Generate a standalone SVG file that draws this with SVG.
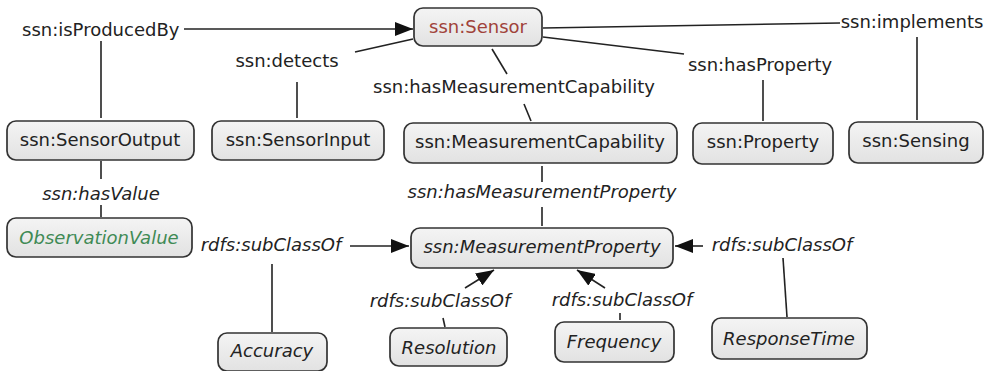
<svg xmlns="http://www.w3.org/2000/svg" width="986" height="371" viewBox="0 0 986 371">
<style>
.box{fill:url(#g);stroke:#333;stroke-width:1.7}
.t{font-family:"DejaVu Sans",Verdana,sans-serif;font-size:18px;fill:#222;text-anchor:middle}
.i{font-style:italic}
.l{stroke:#222;stroke-width:1.6;fill:none}
</style>
<defs>
<linearGradient id="g" x1="0" y1="0" x2="0" y2="1"><stop offset="0" stop-color="#f4f4f4"/><stop offset="1" stop-color="#e2e2e2"/></linearGradient>
<marker id="a" viewBox="0 0 18 14" refX="18" refY="7" markerWidth="18" markerHeight="14" markerUnits="userSpaceOnUse" orient="auto"><path d="M0,0 L18,7 L0,14 z" fill="#111"/></marker>
</defs>
<rect width="986" height="371" fill="#fff"/>
<g id="connectors">
<line class="l" x1="184" y1="29" x2="413" y2="29" marker-end="url(#a)"/>
<line class="l" x1="101" y1="41" x2="101" y2="118"/>
<line class="l" x1="101" y1="161" x2="101" y2="179"/>
<line class="l" x1="101" y1="205" x2="101" y2="217"/>
<line class="l" x1="355" y1="52" x2="413" y2="39"/>
<line class="l" x1="297" y1="82" x2="297" y2="118"/>
<line class="l" x1="492" y1="49" x2="507" y2="74"/>
<line class="l" x1="524" y1="104" x2="531" y2="121"/>
<line class="l" x1="543" y1="37" x2="684" y2="54"/>
<line class="l" x1="763" y1="80" x2="763" y2="121"/>
<line class="l" x1="543" y1="28" x2="840" y2="23"/>
<line class="l" x1="917" y1="37" x2="917" y2="120"/>
<line class="l" x1="542" y1="166" x2="542" y2="182"/>
<line class="l" x1="542" y1="207" x2="542" y2="226"/>
<line class="l" x1="350" y1="246" x2="409" y2="246" marker-end="url(#a)"/>
<line class="l" x1="272" y1="264" x2="272" y2="332"/>
<line class="l" x1="703" y1="246" x2="675" y2="246" marker-end="url(#a)"/>
<line class="l" x1="783" y1="258" x2="787" y2="317"/>
<line class="l" x1="465" y1="288" x2="494" y2="270" marker-end="url(#a)"/>
<line class="l" x1="443" y1="318" x2="445" y2="327"/>
<line class="l" x1="605" y1="288" x2="577" y2="270" marker-end="url(#a)"/>
<line class="l" x1="620" y1="313" x2="620" y2="320"/>
<text class="t" x="22" y="36" style="text-anchor:start">ssn:isProducedBy</text>
<text class="t i" x="101" y="200">ssn:hasValue</text>
<text class="t" x="287" y="67">ssn:detects</text>
<text class="t" x="514" y="93">ssn:hasMeasurementCapability</text>
<text class="t" x="760" y="71">ssn:hasProperty</text>
<text class="t" x="912" y="28">ssn:implements</text>
<text class="t i" x="542" y="198">ssn:hasMeasurementProperty</text>
<text class="t i" x="271" y="251">rdfs:subClassOf</text>
<text class="t i" x="782" y="251">rdfs:subClassOf</text>
<text class="t i" x="440" y="307">rdfs:subClassOf</text>
<text class="t i" x="622" y="306">rdfs:subClassOf</text>
</g>
<g id="sensor"><rect class="box" x="414" y="8" width="128" height="38" rx="9"/><text class="t" x="478" y="33" style="fill:#a0423a">ssn:Sensor</text></g>
<g id="sensorOutput"><rect class="box" x="7" y="121" width="187" height="39" rx="9"/><text class="t" x="100" y="146">ssn:SensorOutput</text></g>
<g id="sensorInput"><rect class="box" x="212" y="121" width="172" height="39" rx="9"/><text class="t" x="298" y="146">ssn:SensorInput</text></g>
<g id="measurementCapability"><rect class="box" x="404" y="123" width="273" height="40" rx="9"/><text class="t" x="540" y="148">ssn:MeasurementCapability</text></g>
<g id="property"><rect class="box" x="693" y="123" width="140" height="41" rx="9"/><text class="t" x="763" y="148">ssn:Property</text></g>
<g id="sensing"><rect class="box" x="849" y="122" width="134" height="41" rx="9"/><text class="t" x="916" y="147">ssn:Sensing</text></g>
<g id="observationValue"><rect class="box" x="7" y="218" width="185" height="39" rx="9"/><text class="t i" x="99" y="244" style="fill:#3f8a55">ObservationValue</text></g>
<g id="measurementProperty"><rect class="box" x="411" y="228" width="262" height="40" rx="9"/><text class="t i" x="542" y="253">ssn:MeasurementProperty</text></g>
<g id="accuracy"><rect class="box" x="218" y="333" width="109" height="38" rx="9"/><text class="t i" x="272" y="357">Accuracy</text></g>
<g id="resolution"><rect class="box" x="390" y="328" width="117" height="38" rx="9"/><text class="t i" x="449" y="354">Resolution</text></g>
<g id="frequency"><rect class="box" x="555" y="322" width="119" height="40" rx="9"/><text class="t i" x="614" y="348">Frequency</text></g>
<g id="responseTime"><rect class="box" x="712" y="318" width="155" height="41" rx="9"/><text class="t i" x="789" y="345">ResponseTime</text></g>
</svg>
